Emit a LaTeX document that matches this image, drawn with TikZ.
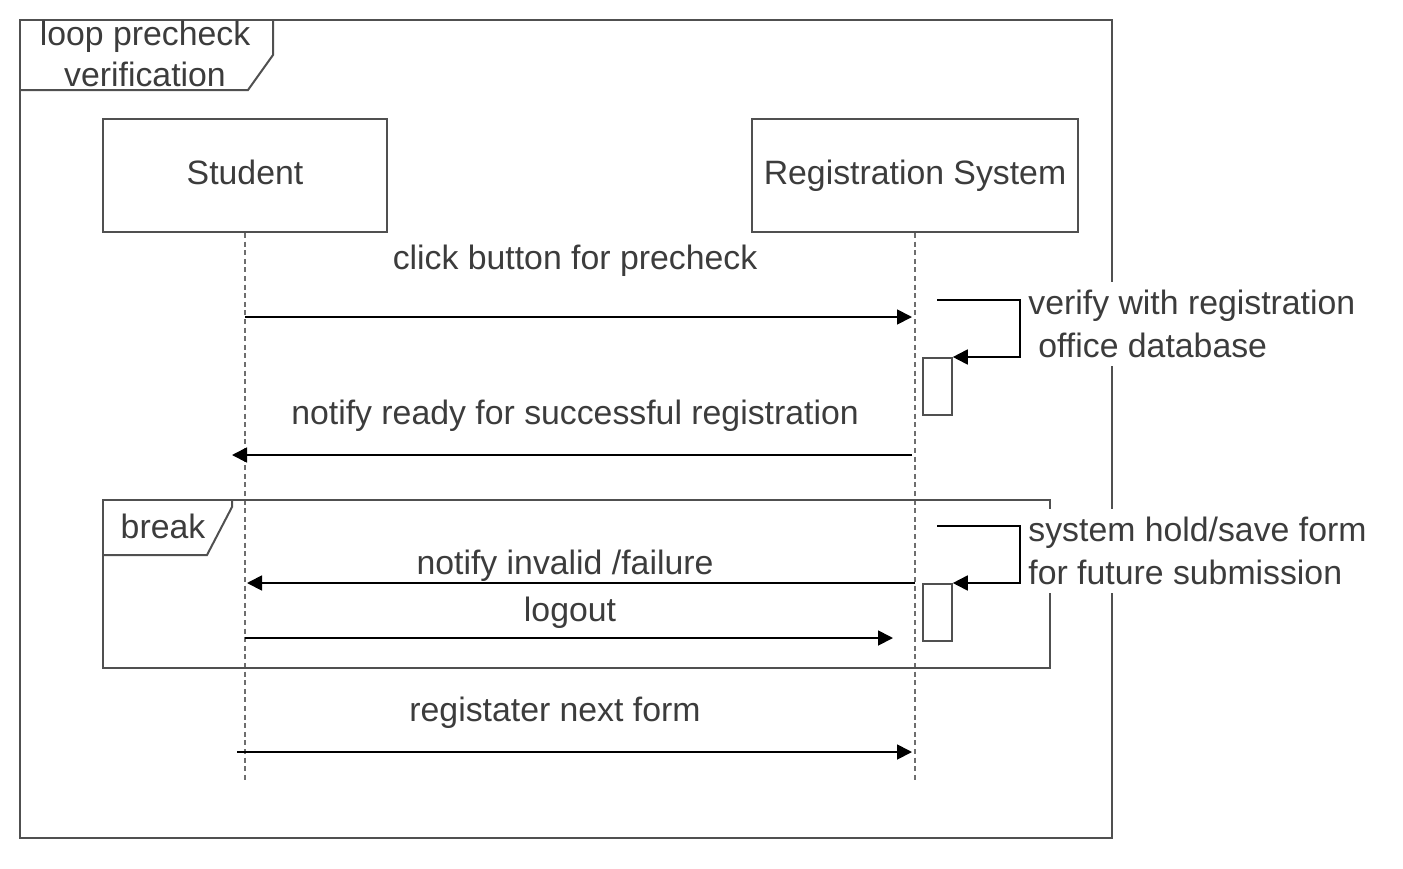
\documentclass[tikz,border=0pt]{standalone}
\usepackage{fontspec}
\setmainfont{Liberation Sans}
\usetikzlibrary{arrows.meta}
\definecolor{ink}{HTML}{3C3C3C}
\definecolor{framegray}{HTML}{505050}
\definecolor{lifegray}{HTML}{6E6E6E}

\tikzset{
  lbl/.style={font=\fontsize{16.9}{21.5}\selectfont,text=ink,inner sep=1pt},
  actorbox/.style={draw=framegray,line width=1pt,lbl,inner sep=0pt,text height=12pt,text depth=3.5pt},
  actbox/.style={draw=framegray,line width=0.9pt,anchor=north west,minimum width=14.5pt,minimum height=28.5pt,inner sep=0pt},
  msg/.style={black,line width=0.9pt,-{Triangle[length=7.5pt,width=7.5pt]}},
  lifeline/.style={lifegray,line width=0.9pt,dash pattern=on 2.5pt off 1.8pt},
  frm/.style={framegray,line width=1pt},
  note/.style={lbl,fill=white,align=left,anchor=west,minimum height=42pt}
}

\begin{document}
\begin{tikzpicture}[x=0.5pt,y=-0.5pt]
\useasboundingbox (0,0) rectangle (1403,868);
% loop frame
\draw[frm] (20,20) rectangle (1112,838);
\draw[frm] (273,20) -- (273,55) -- (248,90) -- (20,90);
\node[lbl] (looptxt) at (145,57) {\begin{tabular}{@{}c@{}}loop precheck\\[-1pt]verification\end{tabular}};
% participants
\node[actorbox,minimum width=142pt,minimum height=56.5pt] (stu) at (245,175.5) {Student};
\node[actorbox,minimum width=163pt,minimum height=56.5pt] (reg) at (915,175.5) {Registration System};
\coordinate (stuend) at (245,780);
\coordinate (regend) at (915,780);
\draw[lifeline] (stu.south) -- (stuend);
\draw[lifeline] (reg.south) -- (regend);
% break frame
\draw[frm] (103,500) rectangle (1050,668);
\draw[frm] (232,500) -- (232,507) -- (207,555) -- (103,555);
\node[lbl] (brktxt) at (163,526) {break};
% message points
\coordinate (m1a) at (245,317);  \coordinate (m1b) at (912,317);
\coordinate (m2a) at (912,455);  \coordinate (m2b) at (232,455);
\coordinate (m3a) at (915,583);  \coordinate (m3b) at (247,583);
\coordinate (m4a) at (245,638);  \coordinate (m4b) at (893,638);
\coordinate (m5a) at (237,752);  \coordinate (m5b) at (912,752);
% activations
\node[actbox] (act1) at (922,357) {};
\node[actbox] (act2) at (922,583) {};
\coordinate (s1a) at (937,300);  \coordinate (s1b) at (1020,357);
\coordinate (s2a) at (937,526);  \coordinate (s2b) at (1020,583);
% notes (white fill hides frame edges)
\node[note] (n1) at (1026,324) {verify with registration\\\hspace{5pt}office database};
\node[note] (n2) at (1026,551) {system hold/save form\\for future submission};
% messages
\draw[msg] (m1a) -- (m1b);
\node[lbl] (l1) at (575,261) {click button for precheck};
\draw[msg] (s1a) -| (s1b) -- (act1.north east);
\draw[msg] (m2a) -- (m2b);
\node[lbl] (l2) at (575,416) {notify ready for successful registration};
\draw[msg] (s2a) -| (s2b) -- (act2.north east);
\draw[msg] (m3a) -- (m3b);
\node[lbl] (l3) at (565,566) {notify invalid /failure};
\draw[msg] (m4a) -- (m4b);
\node[lbl] (l4) at (570,613) {logout};
\draw[msg] (m5a) -- (m5b);
\node[lbl] (l5) at (555,713) {registater next form};
\end{tikzpicture}
\end{document}
